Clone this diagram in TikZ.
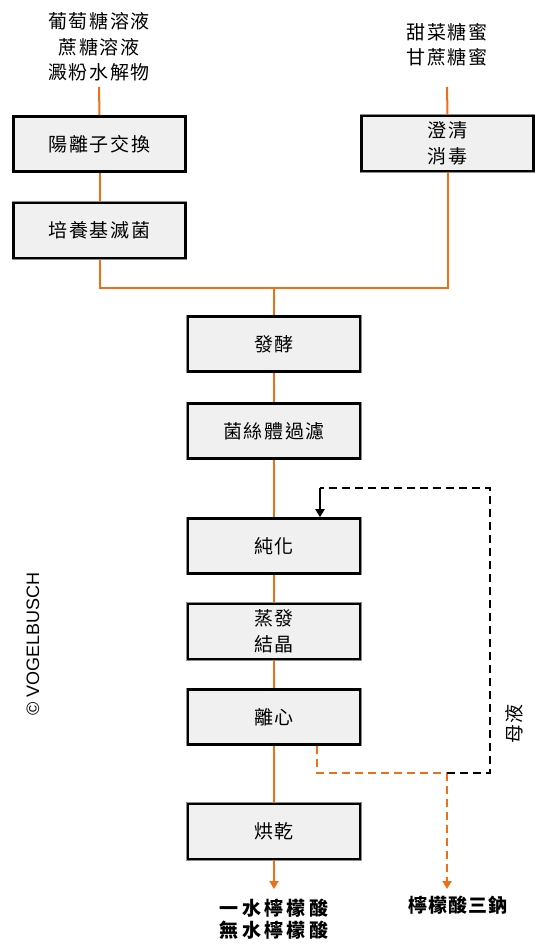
\documentclass[tikz,border=0pt]{standalone}
\usepackage{fontspec}
\setmainfont{Noto Sans CJK TC}[LetterSpace=9]
\newfontfamily\latinsans{Liberation Sans}
\usetikzlibrary{arrows.meta}
\definecolor{flow}{RGB}{238,112,22}
\definecolor{boxfill}{RGB}{240,240,240}
\begin{document}
\begin{tikzpicture}[x=1pt,y=-1pt,
  proc/.style={draw=black, line width=2.6pt, fill=boxfill,
    preaction={draw=black!45, line width=3.8pt},
    minimum width=172pt, minimum height=55pt, inner sep=0pt,
    align=center, font=\fontsize{19}{25.5}\selectfont},
  lbl/.style={align=center, inner sep=0pt, font=\fontsize{19}{25.5}\selectfont},
  prodlbl/.style={align=center, inner sep=0pt, font=\fontsize{19}{22.5}\selectfont\bfseries},
  flowline/.style={draw=flow, line width=2pt},
  flowarrow/.style={flowline, -{Triangle[width=9pt,length=8pt]}},
  loopdash/.style={dash pattern=on 8pt off 5pt, line width=2.2pt},
  tip/.style={-{Triangle[width=9pt,length=8pt]}}
]
\useasboundingbox (0,0) rectangle (546,950);

% inputs
\node[lbl] (in1) at (99,47) {葡萄糖溶液\\蔗糖溶液\\澱粉水解物};
\node[lbl] (in2) at (447,45) {甜菜糖蜜\\甘蔗糖蜜};
\coordinate (s1) at (99,87);
\coordinate (s2) at (447,87);

% process boxes
\node[proc] (ion) at (99.5,144) {陽離子交換};
\node[proc] (med) at (99.5,230.5) {培養基滅菌};
\node[proc] (cla) at (447.5,143.5) {澄清\\消毒};
\node[proc] (fer) at (274,344) {發酵};
\node[proc] (fil) at (274,431) {菌絲體過濾};
\node[proc] (pur) at (274,546) {純化};
\node[proc] (eva) at (274,631.5) {蒸發\\結晶};
\node[proc] (cen) at (274,717) {離心};
\node[proc] (dry) at (274,831.5) {烘乾};

% outputs
\node[prodlbl, font=\fontsize{19}{22.5}\selectfont\bfseries\addfontfeature{LetterSpace=18}] (p1) at (274,919) {一水檸檬酸\\無水檸檬酸};
\node[prodlbl, font=\fontsize{19}{22.5}\selectfont\bfseries\addfontfeature{LetterSpace=6}] (p2) at (458,905) {檸檬酸三鈉};
\coordinate (e1) at (274,889);
\coordinate (e2) at (447,889);

% main flow
\coordinate (j) at (274,288);
\draw[flowline] (s1) -- (ion.north);
\draw[flowline] (s2) -- (cla.north);
\draw[flowline] (ion.south) -- (med.north);
\draw[flowline] (med.south) |- (j) -| (cla.south);
\draw[flowline] (j) -- (fer.north);
\draw[flowline] (fer.south) -- (fil.north);
\draw[flowline] (fil.south) -- (pur.north);
\draw[flowline] (pur.south) -- (eva.north);
\draw[flowline] (eva.south) -- (cen.north);
\draw[flowline] (cen.south) -- (dry.north);
\draw[flowarrow] (dry.south) -- (e1);

% mother liquor loop
\coordinate (ct) at (317,773);
\coordinate (jn) at (447,773);
\coordinate (lb) at (490,773);
\coordinate (lt) at (490,488);
\coordinate (la) at (320,488);
\draw[draw=flow, loopdash] (cen.south -| ct) -- (ct) -- (jn);
\draw[draw=flow, loopdash, tip] (jn) -- (e2);
\draw[draw=black, loopdash] (jn) -- (lb) -- (lt) -- (la);
\draw[draw=black, line width=2pt, tip] (la) -- (pur.north -| la);
\node[lbl, rotate=90] (ml) at (514,724) {母液};

% copyright
\node[inner sep=0pt, rotate=90, font=\latinsans\fontsize{18}{20}\selectfont] (copy) at (33,644) {© VOGELBUSCH};
\end{tikzpicture}
\end{document}
